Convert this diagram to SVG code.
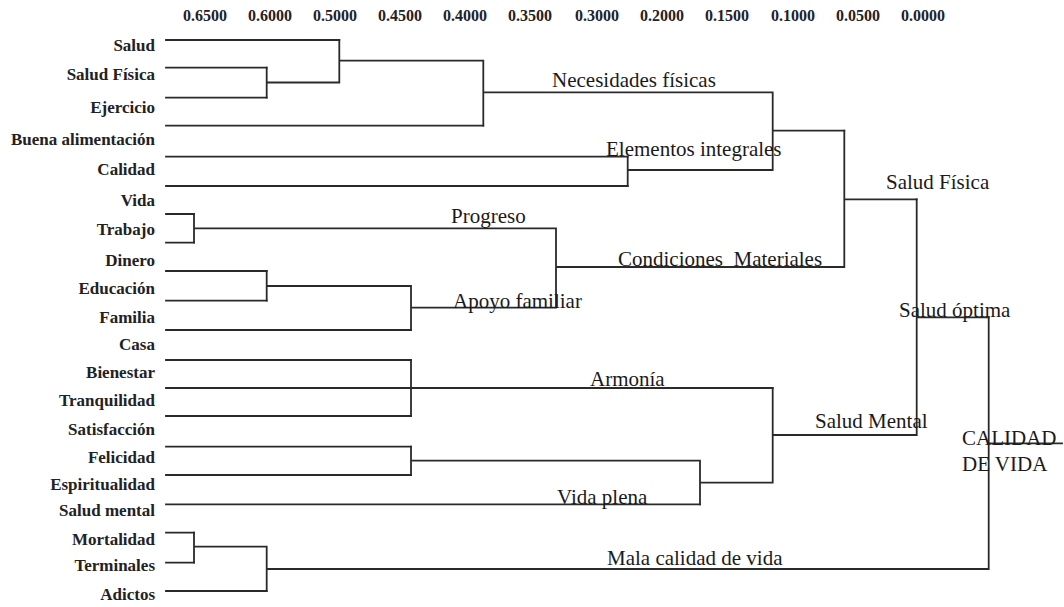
<svg xmlns="http://www.w3.org/2000/svg" width="1064" height="607" viewBox="0 0 1064 607">
<style>
.ax{font-family:"Liberation Serif","Times New Roman",serif;font-size:16px;font-weight:bold;fill:#222;text-anchor:middle}
.lf{font-family:"Liberation Serif","Times New Roman",serif;font-size:17px;font-weight:bold;fill:#222;text-anchor:end}
.cl{font-family:"Liberation Serif","Times New Roman",serif;font-size:21px;fill:#1a1a1a}
.ln{fill:none;stroke:#2a2a2a;stroke-width:1.8;stroke-linecap:square}
</style>
<rect width="1064" height="607" fill="#fff"/>
<g id="axis">
<text class="ax" x="205" y="21">0.6500</text>
<text class="ax" x="270" y="21">0.6000</text>
<text class="ax" x="335" y="21">0.5000</text>
<text class="ax" x="400" y="21">0.4500</text>
<text class="ax" x="465" y="21">0.4000</text>
<text class="ax" x="530" y="21">0.3500</text>
<text class="ax" x="597" y="21">0.3000</text>
<text class="ax" x="662" y="21">0.2000</text>
<text class="ax" x="727" y="21">0.1500</text>
<text class="ax" x="793" y="21">0.1000</text>
<text class="ax" x="858" y="21">0.0500</text>
<text class="ax" x="923" y="21">0.0000</text>
</g>
<g id="leaf-salud"><text class="lf" x="155" y="51">Salud</text></g>
<g id="leaf-salud-fisica"><text class="lf" x="155" y="80">Salud Física</text></g>
<g id="leaf-ejercicio"><text class="lf" x="155" y="113">Ejercicio</text></g>
<g id="leaf-buena-alimentacion"><text class="lf" x="155" y="145">Buena alimentación</text></g>
<g id="leaf-calidad"><text class="lf" x="155" y="175">Calidad</text></g>
<g id="leaf-vida"><text class="lf" x="155" y="206">Vida</text></g>
<g id="leaf-trabajo"><text class="lf" x="155" y="235">Trabajo</text></g>
<g id="leaf-dinero"><text class="lf" x="155" y="266">Dinero</text></g>
<g id="leaf-educacion"><text class="lf" x="155" y="294">Educación</text></g>
<g id="leaf-familia"><text class="lf" x="155" y="323">Familia</text></g>
<g id="leaf-casa"><text class="lf" x="155" y="350">Casa</text></g>
<g id="leaf-bienestar"><text class="lf" x="155" y="378">Bienestar</text></g>
<g id="leaf-tranquilidad"><text class="lf" x="155" y="406">Tranquilidad</text></g>
<g id="leaf-satisfaccion"><text class="lf" x="155" y="435">Satisfacción</text></g>
<g id="leaf-felicidad"><text class="lf" x="155" y="463">Felicidad</text></g>
<g id="leaf-espiritualidad"><text class="lf" x="155" y="490">Espiritualidad</text></g>
<g id="leaf-salud-mental"><text class="lf" x="155" y="516">Salud mental</text></g>
<g id="leaf-mortalidad"><text class="lf" x="155" y="545">Mortalidad</text></g>
<g id="leaf-terminales"><text class="lf" x="155" y="571">Terminales</text></g>
<g id="leaf-adictos"><text class="lf" x="155" y="600">Adictos</text></g>
<g id="connectors">
<path class="ln" d="M166 40H339.3 M166 67.7H266.7 M166 97.7H266.7 M166 125.7H483.3 M166 156.7H627.7 M166 186H627.7 M166 214H194 M166 242.7H194 M166 271H266.7 M166 300.7H266.7 M166 330H411 M166 360H411 M166 388H772.7 M166 416H411 M166 446.7H411 M166 475H411 M166 504.3H700 M166 532.7H194 M166 562.7H194 M166 591H266.7"/>
<path class="ln" d="M266.7 67.7V97.7 M266.7 82.5H339.3 M339.3 40V82.5 M339.3 60.7H483.3 M483.3 60.7V125.7 M483.3 92.3H772.7 M627.7 156.7V186 M627.7 170H772.7 M772.7 92.3V170 M772.7 130.7H844.3"/>
<path class="ln" d="M194 214V242.7 M194 228.3H556 M266.7 271V300.7 M266.7 286H411 M411 286V330 M411 307.7H556 M556 228.3V307.7 M556 267H844.3 M844.3 130.7V267 M844.3 199.3H916.7"/>
<path class="ln" d="M411 360V416 M411 446.7V475 M411 460.7H700 M700 460.7V504.3 M700 482.7H772.7 M772.7 388V482.7 M772.7 435H916.7 M916.7 199.3V435 M916.7 317.3H988.7"/>
<path class="ln" d="M194 532.7V562.7 M194 546.7H266.7 M266.7 546.7V591 M266.7 569H988.7 M988.7 317.3V569 M988.7 443.3H1062"/>
</g>
<g id="cluster-necesidades-fisicas"><text class="cl" x="552" y="87">Necesidades físicas</text></g>
<g id="cluster-elementos-integrales"><text class="cl" x="606" y="156">Elementos integrales</text></g>
<g id="cluster-progreso"><text class="cl" x="451" y="222.5">Progreso</text></g>
<g id="cluster-condiciones-materiales"><text class="cl" x="618" y="266" xml:space="preserve">Condiciones  Materiales</text></g>
<g id="cluster-apoyo-familiar"><text class="cl" x="453" y="308">Apoyo familiar</text></g>
<g id="cluster-armonia"><text class="cl" x="590" y="386">Armonía</text></g>
<g id="cluster-vida-plena"><text class="cl" x="557" y="504">Vida plena</text></g>
<g id="cluster-mala-calidad"><text class="cl" x="607" y="565">Mala calidad de vida</text></g>
<g id="cluster-salud-fisica"><text class="cl" x="886" y="189">Salud Física</text></g>
<g id="cluster-salud-mental"><text class="cl" x="815" y="427.5">Salud Mental</text></g>
<g id="cluster-salud-optima"><text class="cl" x="899" y="316.5">Salud óptima</text></g>
<g id="root-calidad-de-vida"><text class="cl" x="962" y="445">CALIDAD</text><text class="cl" x="962" y="470.5">DE VIDA</text></g>
</svg>
